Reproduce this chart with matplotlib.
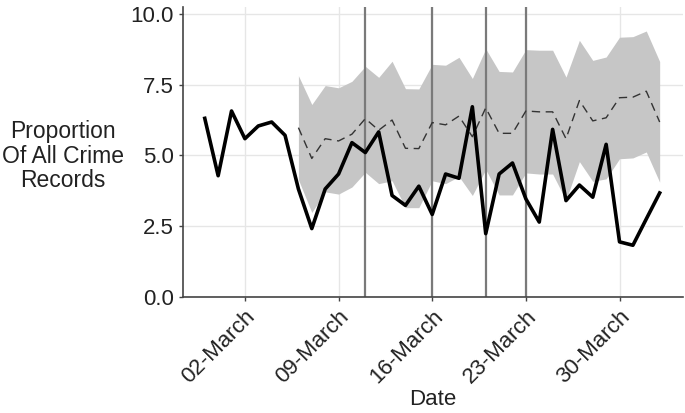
import numpy as np
import pandas as pd
import matplotlib
matplotlib.use("Agg")
import matplotlib.pyplot as plt
import matplotlib.dates as mdates

plt.rcParams["font.family"] = ["Liberation Sans", "DejaVu Sans"]

# observed proportion, 28 Feb - 02 Apr 2020
obs_dates = pd.date_range("2020-02-28", "2020-04-02", freq="D")
observed = [6.31, 4.28, 6.57, 5.59, 6.04, 6.18, 5.71, 3.81, 2.41, 3.81,
            4.34, 5.45, 5.10, 5.83, 3.58, 3.23, 3.91, 2.91, 4.34, 4.19,
            6.72, 2.23, 4.34, 4.73, 3.46, 2.64, 5.92, 3.40, 3.95, 3.52,
            5.39, 1.94, 1.82, 2.75, 3.67]

# expected proportion and interval, 06 Mar - 02 Apr 2020
exp_dates = pd.date_range("2020-03-06", "2020-04-02", freq="D")
expected = [5.98, 4.89, 5.59, 5.51, 5.75, 6.30, 5.89, 6.25, 5.25, 5.24,
            6.16, 6.08, 6.39, 5.66, 6.68, 5.78, 5.78, 6.57, 6.54, 6.54,
            5.59, 6.94, 6.22, 6.33, 7.04, 7.06, 7.27, 6.18]
upper = [7.82, 6.80, 7.47, 7.39, 7.62, 8.15, 7.76, 8.33, 7.36, 7.35,
         8.22, 8.19, 8.47, 7.72, 8.77, 7.97, 7.95, 8.74, 8.72, 8.72,
         7.77, 9.07, 8.36, 8.48, 9.18, 9.20, 9.40, 8.32]
lower = [4.14, 2.98, 3.71, 3.63, 3.88, 4.40, 4.00, 4.10, 3.15, 3.15,
         4.10, 4.00, 4.25, 3.58, 4.50, 3.60, 3.60, 4.38, 4.34, 4.34,
         3.41, 4.78, 4.08, 4.17, 4.88, 4.91, 5.12, 4.05]

events = pd.to_datetime(["2020-03-11", "2020-03-16", "2020-03-20", "2020-03-23"])
week_ticks = pd.to_datetime(["2020-03-02", "2020-03-09", "2020-03-16",
                             "2020-03-23", "2020-03-30"])

fig = plt.figure(figsize=(6.85, 4.13), dpi=100)
ax = fig.add_axes([0.2667, 0.2816, 0.7303, 0.7022])

ax.fill_between(exp_dates, lower, upper, color="#c6c6c6", lw=0, zorder=1)
for d in events:
    ax.axvline(d, color="#7a7a7a", lw=1.6, zorder=2)
ax.plot(exp_dates, expected, color="#333333", lw=1.0, ls=(0, (6, 4)), zorder=3)
ax.plot(obs_dates, observed, color="black", lw=2.6, zorder=4)

start = mdates.date2num(pd.Timestamp("2020-03-02"))
ax.set_xlim(start - 4.65, start + 32.74)
ax.set_ylim(0, 10.26)

ax.set_xticks(week_ticks)
ax.xaxis.set_major_formatter(mdates.DateFormatter("%d-%B"))
ax.set_yticks([0, 2.5, 5.0, 7.5, 10.0])
ax.set_yticklabels(["0.0", "2.5", "5.0", "7.5", "10.0"])

ax.grid(True, color="#e6e6e6", lw=1.0, zorder=0)
ax.set_axisbelow(True)
for s in ["top", "right"]:
    ax.spines[s].set_visible(False)
for s in ["left", "bottom"]:
    ax.spines[s].set_color("#444444")
    ax.spines[s].set_linewidth(1.2)

ax.tick_params(axis="both", colors="#444444", length=3, width=1.0,
               labelsize=16, labelcolor="#222222")
plt.setp(ax.get_xticklabels(), rotation=45, ha="right",
         rotation_mode="anchor")

ax.set_xlabel("Date", fontsize=16, color="#222222", va="center")
ax.xaxis.set_label_coords(0.5, -0.356)
ax.set_ylabel("Proportion\nOf All Crime\nRecords", fontsize=16.5,
              color="#222222", rotation=0, ha="center", va="center",
              linespacing=1.1)
ax.yaxis.set_label_coords(-0.239, 0.485)

fig.savefig("out.png", dpi=100)
